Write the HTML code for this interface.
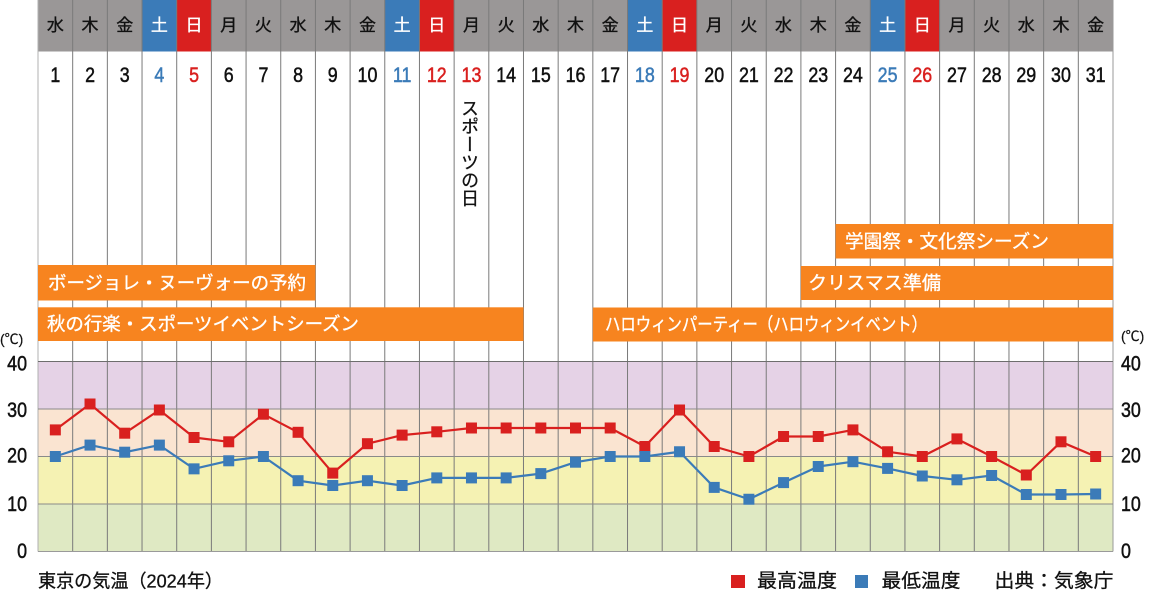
<!DOCTYPE html>
<html><head><meta charset="utf-8">
<style>
html,body{margin:0;padding:0;background:#fff;}
#wrap{position:relative;width:1149px;height:591px;overflow:hidden;}
svg{position:absolute;left:0;top:0;}
text{font-family:"Liberation Sans","Noto Sans CJK JP",sans-serif;}
.vt{position:absolute;left:461px;top:99px;writing-mode:vertical-rl;font-family:"Noto Sans CJK JP",sans-serif;font-size:18px;line-height:18px;color:#111;-webkit-text-stroke:0.3px #111;}
</style></head><body>
<div id="wrap">
<svg width="1149" height="591" viewBox="0 0 1149 591" xmlns="http://www.w3.org/2000/svg">
<!-- header row -->
<rect x="38" y="0" width="1075" height="51.5" fill="#9a9797"/>
<rect x="142.03" y="0" width="34.68" height="51.5" fill="#3b7bb8"/>
<rect x="176.71" y="0" width="34.68" height="51.5" fill="#d9201f"/>
<rect x="384.77" y="0" width="34.68" height="51.5" fill="#3b7bb8"/>
<rect x="419.45" y="0" width="34.68" height="51.5" fill="#d9201f"/>
<rect x="627.52" y="0" width="34.68" height="51.5" fill="#3b7bb8"/>
<rect x="662.19" y="0" width="34.68" height="51.5" fill="#d9201f"/>
<rect x="870.26" y="0" width="34.68" height="51.5" fill="#3b7bb8"/>
<rect x="904.94" y="0" width="34.68" height="51.5" fill="#d9201f"/>

<!-- bands -->
<rect x="38" y="361.5" width="1075" height="47.5" fill="#e5d2e6"/>
<rect x="38" y="409" width="1075" height="47.5" fill="#fae4d1"/>
<rect x="38" y="456.5" width="1075" height="47.5" fill="#f5f2b3"/>
<rect x="38" y="504" width="1075" height="47.5" fill="#dfe9c3"/>

<!-- vertical grid lines -->
<g stroke="#7a7a7a" stroke-width="1">
<line x1="38" y1="0" x2="38" y2="551.5" stroke="#b0b0b0"/>
<line x1="72.68" y1="0" x2="72.68" y2="551.5"/>
<line x1="107.35" y1="0" x2="107.35" y2="551.5"/>
<line x1="142.03" y1="0" x2="142.03" y2="551.5"/>
<line x1="176.71" y1="0" x2="176.71" y2="551.5"/>
<line x1="211.39" y1="0" x2="211.39" y2="551.5"/>
<line x1="246.06" y1="0" x2="246.06" y2="551.5"/>
<line x1="280.74" y1="0" x2="280.74" y2="551.5"/>
<line x1="315.42" y1="0" x2="315.42" y2="551.5"/>
<line x1="350.10" y1="0" x2="350.10" y2="551.5"/>
<line x1="384.77" y1="0" x2="384.77" y2="551.5"/>
<line x1="419.45" y1="0" x2="419.45" y2="551.5"/>
<line x1="454.13" y1="0" x2="454.13" y2="551.5"/>
<line x1="488.81" y1="0" x2="488.81" y2="551.5"/>
<line x1="523.48" y1="0" x2="523.48" y2="551.5"/>
<line x1="558.16" y1="0" x2="558.16" y2="551.5"/>
<line x1="592.84" y1="0" x2="592.84" y2="551.5"/>
<line x1="627.52" y1="0" x2="627.52" y2="551.5"/>
<line x1="662.19" y1="0" x2="662.19" y2="551.5"/>
<line x1="696.87" y1="0" x2="696.87" y2="551.5"/>
<line x1="731.55" y1="0" x2="731.55" y2="551.5"/>
<line x1="766.23" y1="0" x2="766.23" y2="551.5"/>
<line x1="800.90" y1="0" x2="800.90" y2="551.5"/>
<line x1="835.58" y1="0" x2="835.58" y2="551.5"/>
<line x1="870.26" y1="0" x2="870.26" y2="551.5"/>
<line x1="904.94" y1="0" x2="904.94" y2="551.5"/>
<line x1="939.61" y1="0" x2="939.61" y2="551.5"/>
<line x1="974.29" y1="0" x2="974.29" y2="551.5"/>
<line x1="1008.97" y1="0" x2="1008.97" y2="551.5"/>
<line x1="1043.65" y1="0" x2="1043.65" y2="551.5"/>
<line x1="1078.32" y1="0" x2="1078.32" y2="551.5"/>
<line x1="1113" y1="0" x2="1113" y2="551.5" stroke="#9a9a9a"/>
</g>

<!-- horizontal lines -->
<line x1="38" y1="361.5" x2="1113" y2="361.5" stroke="#6e6e6e" stroke-width="1"/>
<line x1="38" y1="409" x2="1113" y2="409" stroke="#8a8a8a" stroke-width="1"/>
<line x1="38" y1="456.5" x2="1113" y2="456.5" stroke="#8a8a8a" stroke-width="1"/>
<line x1="38" y1="504" x2="1113" y2="504" stroke="#8a8a8a" stroke-width="1"/>
<line x1="38" y1="551.5" x2="1113" y2="551.5" stroke="#9a9a9a" stroke-width="1"/>

<!-- day of week -->
<g font-size="17" text-anchor="middle" fill="#111" stroke="#111" stroke-width="0.35">
<text x="55.34" y="31">水</text>
<text x="90.02" y="31">木</text>
<text x="124.69" y="31">金</text>
<text x="159.37" y="31" fill="#fff" stroke="#fff">土</text>
<text x="194.05" y="31" fill="#fff" stroke="#fff">日</text>
<text x="228.73" y="31">月</text>
<text x="263.40" y="31">火</text>
<text x="298.08" y="31">水</text>
<text x="332.76" y="31">木</text>
<text x="367.44" y="31">金</text>
<text x="402.11" y="31" fill="#fff" stroke="#fff">土</text>
<text x="436.79" y="31" fill="#fff" stroke="#fff">日</text>
<text x="471.47" y="31">月</text>
<text x="506.15" y="31">火</text>
<text x="540.82" y="31">水</text>
<text x="575.50" y="31">木</text>
<text x="610.18" y="31">金</text>
<text x="644.85" y="31" fill="#fff" stroke="#fff">土</text>
<text x="679.53" y="31" fill="#fff" stroke="#fff">日</text>
<text x="714.21" y="31">月</text>
<text x="748.89" y="31">火</text>
<text x="783.56" y="31">水</text>
<text x="818.24" y="31">木</text>
<text x="852.92" y="31">金</text>
<text x="887.60" y="31" fill="#fff" stroke="#fff">土</text>
<text x="922.27" y="31" fill="#fff" stroke="#fff">日</text>
<text x="956.95" y="31">月</text>
<text x="991.63" y="31">火</text>
<text x="1026.31" y="31">水</text>
<text x="1060.98" y="31">木</text>
<text x="1095.66" y="31">金</text>
</g>

<!-- day numbers -->
<g font-size="21" text-anchor="middle" fill="#111" stroke="#111" stroke-width="0.5">
<text transform="translate(55.34,82) scale(0.85,1)">1</text>
<text transform="translate(90.02,82) scale(0.85,1)">2</text>
<text transform="translate(124.69,82) scale(0.85,1)">3</text>
<text transform="translate(159.37,82) scale(0.85,1)" fill="#3b7bb8" stroke="#3b7bb8">4</text>
<text transform="translate(194.05,82) scale(0.85,1)" fill="#d9201f" stroke="#d9201f">5</text>
<text transform="translate(228.73,82) scale(0.85,1)">6</text>
<text transform="translate(263.40,82) scale(0.85,1)">7</text>
<text transform="translate(298.08,82) scale(0.85,1)">8</text>
<text transform="translate(332.76,82) scale(0.85,1)">9</text>
<text transform="translate(367.44,82) scale(0.85,1)">10</text>
<text transform="translate(402.11,82) scale(0.85,1)" fill="#3b7bb8" stroke="#3b7bb8">11</text>
<text transform="translate(436.79,82) scale(0.85,1)" fill="#d9201f" stroke="#d9201f">12</text>
<text transform="translate(471.47,82) scale(0.85,1)" fill="#d9201f" stroke="#d9201f">13</text>
<text transform="translate(506.15,82) scale(0.85,1)">14</text>
<text transform="translate(540.82,82) scale(0.85,1)">15</text>
<text transform="translate(575.50,82) scale(0.85,1)">16</text>
<text transform="translate(610.18,82) scale(0.85,1)">17</text>
<text transform="translate(644.85,82) scale(0.85,1)" fill="#3b7bb8" stroke="#3b7bb8">18</text>
<text transform="translate(679.53,82) scale(0.85,1)" fill="#d9201f" stroke="#d9201f">19</text>
<text transform="translate(714.21,82) scale(0.85,1)">20</text>
<text transform="translate(748.89,82) scale(0.85,1)">21</text>
<text transform="translate(783.56,82) scale(0.85,1)">22</text>
<text transform="translate(818.24,82) scale(0.85,1)">23</text>
<text transform="translate(852.92,82) scale(0.85,1)">24</text>
<text transform="translate(887.60,82) scale(0.85,1)" fill="#3b7bb8" stroke="#3b7bb8">25</text>
<text transform="translate(922.27,82) scale(0.85,1)" fill="#d9201f" stroke="#d9201f">26</text>
<text transform="translate(956.95,82) scale(0.85,1)">27</text>
<text transform="translate(991.63,82) scale(0.85,1)">28</text>
<text transform="translate(1026.31,82) scale(0.85,1)">29</text>
<text transform="translate(1060.98,82) scale(0.85,1)">30</text>
<text transform="translate(1095.66,82) scale(0.85,1)">31</text>
</g>

<!-- orange bars -->
<g fill="#f7841f">
<rect x="835.58" y="224" width="277.42" height="34.5"/>
<rect x="800.90" y="266" width="312.1" height="34"/>
<rect x="38" y="265" width="277.42" height="35.5"/>
<rect x="38" y="307.3" width="485.48" height="33.7"/>
<rect x="592.84" y="307.5" width="520.16" height="34"/>
</g>
<g fill="#fff" stroke="#fff" stroke-width="0.35" font-size="18.5" dominant-baseline="central">
<text x="845" y="241.5" textLength="204" lengthAdjust="spacingAndGlyphs">学園祭・文化祭シーズン</text>
<text x="808" y="283" textLength="133" lengthAdjust="spacingAndGlyphs">クリスマス準備</text>
<text x="48" y="283" textLength="258" lengthAdjust="spacingAndGlyphs">ボージョレ・ヌーヴォーの予約</text>
<text x="47" y="324.2" textLength="312" lengthAdjust="spacingAndGlyphs">秋の行楽・スポーツイベントシーズン</text>
<text x="605" y="324.5" textLength="322" lengthAdjust="spacingAndGlyphs">ハロウィンパーティー（ハロウィンイベント）</text>
</g>

<!-- axis labels -->
<g font-size="14" fill="#111" stroke="#111" stroke-width="0.2">
<text x="0" y="344">(℃)</text>
<text x="1121" y="341">(℃)</text>
</g>
<g font-size="21" fill="#111" stroke="#111" stroke-width="0.5" text-anchor="end">
<text transform="translate(27,370.5) scale(0.85,1)">40</text>
<text transform="translate(27,417) scale(0.85,1)">30</text>
<text transform="translate(27,462.5) scale(0.85,1)">20</text>
<text transform="translate(27,511) scale(0.85,1)">10</text>
<text transform="translate(27,558) scale(0.85,1)">0</text>
</g>
<g font-size="21" fill="#111" stroke="#111" stroke-width="0.5" text-anchor="start">
<text transform="translate(1121,370.5) scale(0.85,1)">40</text>
<text transform="translate(1121,417) scale(0.85,1)">30</text>
<text transform="translate(1121,462.5) scale(0.85,1)">20</text>
<text transform="translate(1121,511) scale(0.85,1)">10</text>
<text transform="translate(1121,558) scale(0.85,1)">0</text>
</g>

<!-- max series -->
<polyline fill="none" stroke="#d9201f" stroke-width="2.2" stroke-linejoin="round" points="55.34,429.9 90.02,404.0 124.69,433.2 159.37,410.0 194.05,437.5 228.73,441.8 263.40,414.2 298.08,432.3 332.76,473.1 367.44,443.7 402.11,435.1 436.79,431.8 471.47,428 506.15,428 540.82,428 575.50,428 610.18,428 644.85,446.5 679.53,410.0 714.21,446.5 748.89,456.5 783.56,436.5 818.24,436.5 852.92,429.9 887.60,451.75 922.27,456.5 956.95,438.9 991.63,456.5 1026.31,475.0 1060.98,441.8 1095.66,456.5"/>
<g fill="#d9201f">
<rect x="49.84" y="424.4" width="11" height="11"/>
<rect x="84.52" y="398.5" width="11" height="11"/>
<rect x="119.19" y="427.7" width="11" height="11"/>
<rect x="153.87" y="404.5" width="11" height="11"/>
<rect x="188.55" y="432" width="11" height="11"/>
<rect x="223.23" y="436.3" width="11" height="11"/>
<rect x="257.90" y="408.7" width="11" height="11"/>
<rect x="292.58" y="426.8" width="11" height="11"/>
<rect x="327.26" y="467.6" width="11" height="11"/>
<rect x="361.94" y="438.2" width="11" height="11"/>
<rect x="396.61" y="429.6" width="11" height="11"/>
<rect x="431.29" y="426.3" width="11" height="11"/>
<rect x="465.97" y="422.5" width="11" height="11"/>
<rect x="500.65" y="422.5" width="11" height="11"/>
<rect x="535.32" y="422.5" width="11" height="11"/>
<rect x="570.00" y="422.5" width="11" height="11"/>
<rect x="604.68" y="422.5" width="11" height="11"/>
<rect x="639.35" y="441" width="11" height="11"/>
<rect x="674.03" y="404.5" width="11" height="11"/>
<rect x="708.71" y="441" width="11" height="11"/>
<rect x="743.39" y="451" width="11" height="11"/>
<rect x="778.06" y="431" width="11" height="11"/>
<rect x="812.74" y="431" width="11" height="11"/>
<rect x="847.42" y="424.4" width="11" height="11"/>
<rect x="882.10" y="446.25" width="11" height="11"/>
<rect x="916.77" y="451" width="11" height="11"/>
<rect x="951.45" y="433.4" width="11" height="11"/>
<rect x="986.13" y="451" width="11" height="11"/>
<rect x="1020.81" y="469.5" width="11" height="11"/>
<rect x="1055.48" y="436.3" width="11" height="11"/>
<rect x="1090.16" y="451" width="11" height="11"/>
</g>

<!-- min series -->
<polyline fill="none" stroke="#3b7bb8" stroke-width="2.2" stroke-linejoin="round" points="55.34,456.5 90.02,445.1 124.69,452.2 159.37,445.1 194.05,468.85 228.73,460.8 263.40,456.5 298.08,480.7 332.76,485.5 367.44,480.7 402.11,485.5 436.79,477.9 471.47,477.9 506.15,477.9 540.82,473.6 575.50,462.2 610.18,456.5 644.85,456.5 679.53,451.75 714.21,487.4 748.89,499.25 783.56,482.6 818.24,466.5 852.92,461.7 887.60,468.4 922.27,476.0 956.95,479.8 991.63,475.5 1026.31,494.5 1060.98,494.5 1095.66,494.0"/>
<g fill="#3b7bb8">
<rect x="49.84" y="451" width="11" height="11"/>
<rect x="84.52" y="439.6" width="11" height="11"/>
<rect x="119.19" y="446.7" width="11" height="11"/>
<rect x="153.87" y="439.6" width="11" height="11"/>
<rect x="188.55" y="463.35" width="11" height="11"/>
<rect x="223.23" y="455.3" width="11" height="11"/>
<rect x="257.90" y="451" width="11" height="11"/>
<rect x="292.58" y="475.2" width="11" height="11"/>
<rect x="327.26" y="480" width="11" height="11"/>
<rect x="361.94" y="475.2" width="11" height="11"/>
<rect x="396.61" y="480" width="11" height="11"/>
<rect x="431.29" y="472.4" width="11" height="11"/>
<rect x="465.97" y="472.4" width="11" height="11"/>
<rect x="500.65" y="472.4" width="11" height="11"/>
<rect x="535.32" y="468.1" width="11" height="11"/>
<rect x="570.00" y="456.7" width="11" height="11"/>
<rect x="604.68" y="451" width="11" height="11"/>
<rect x="639.35" y="451" width="11" height="11"/>
<rect x="674.03" y="446.25" width="11" height="11"/>
<rect x="708.71" y="481.9" width="11" height="11"/>
<rect x="743.39" y="493.75" width="11" height="11"/>
<rect x="778.06" y="477.1" width="11" height="11"/>
<rect x="812.74" y="461" width="11" height="11"/>
<rect x="847.42" y="456.2" width="11" height="11"/>
<rect x="882.10" y="462.9" width="11" height="11"/>
<rect x="916.77" y="470.5" width="11" height="11"/>
<rect x="951.45" y="474.3" width="11" height="11"/>
<rect x="986.13" y="470" width="11" height="11"/>
<rect x="1020.81" y="489" width="11" height="11"/>
<rect x="1055.48" y="489" width="11" height="11"/>
<rect x="1090.16" y="488.5" width="11" height="11"/>
</g>

<!-- footer -->
<g fill="#111" stroke="#111" stroke-width="0.3" dominant-baseline="central">
<text x="38" y="581" font-size="18.5" textLength="185" lengthAdjust="spacingAndGlyphs">東京の気温（2024年）</text>
<text x="757" y="581.5" font-size="19" textLength="80" lengthAdjust="spacingAndGlyphs">最高温度</text>
<text x="881.5" y="581.5" font-size="19" textLength="79" lengthAdjust="spacingAndGlyphs">最低温度</text>
<text x="994.5" y="581.5" font-size="19" textLength="119" lengthAdjust="spacingAndGlyphs">出典：気象庁</text>
</g>
<rect x="731" y="575" width="14" height="13" fill="#d9201f"/>
<rect x="855" y="575" width="13" height="13" fill="#3b7bb8"/>
</svg>
<div class="vt">スポーツの日</div>
</div>
</body></html>
